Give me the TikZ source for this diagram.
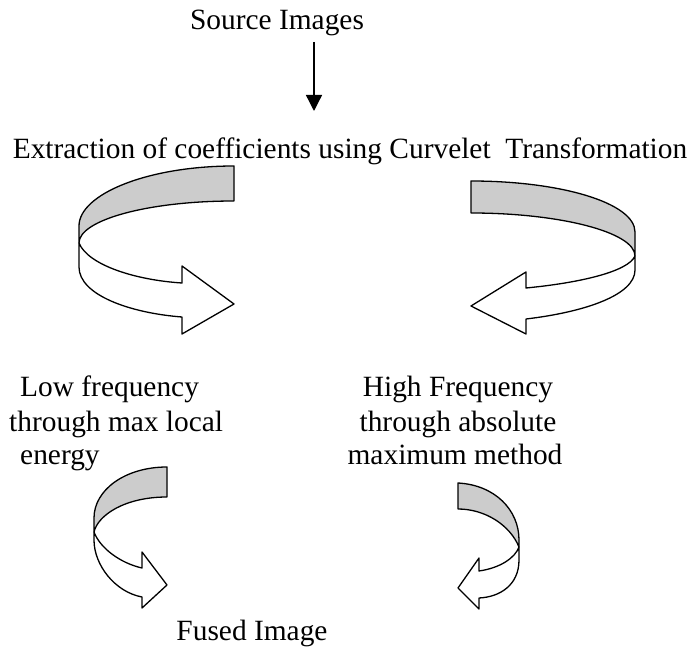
\documentclass[tikz,border=0pt]{standalone}
\usepackage{fontspec}
\setmainfont{Liberation Serif}
\usetikzlibrary{arrows.meta}
\begin{document}
\begin{tikzpicture}[x=1pt,y=-1pt,
  lbl/.style={inner sep=0pt, font=\fontsize{29.4}{34}\selectfont},
  band/.style={draw=black, line width=1.3pt, line join=round},
  backface/.style={band, fill=black!20},
  frontface/.style={band, fill=white}]
\useasboundingbox (0,0) rectangle (697,652);

% texts
\node[lbl, anchor=base] (source) at (277,30) {Source Images};
\node[lbl, anchor=base] (extraction) at (350,159) {Extraction of coefficients using Curvelet\ \ Transformation};
\node[lbl, anchor=base west] (low1) at (20,397) {Low frequency};
\node[lbl, anchor=base west] (low2) at (9,432) {through max local};
\node[lbl, anchor=base west] (low3) at (20,465) {energy};
\node[lbl, anchor=base] (high1) at (458,397) {High Frequency};
\node[lbl, anchor=base] (high2) at (458,432) {through absolute};
\node[lbl, anchor=base] (high3) at (455,465) {maximum method};
\node[lbl, anchor=base] (fused) at (252,640) {Fused Image};

% top arrow
\coordinate (ta) at (314,42);
\coordinate (tb) at (314,111);
\draw[line width=1.3pt, -{Triangle[width=16pt,length=16pt]}] (ta) -- (tb);

% left big curved arrow
\draw[backface] (234,166) .. controls (148,166) and (79,194) .. (79,226)
  -- (79,243) .. controls (79,220) and (148,201) .. (234,201) -- cycle;
\draw[frontface] (79,243) -- (79,267) .. controls (79,295) and (130,313) .. (182,317)
  -- (182,334) -- (234,304) -- (182,266) -- (182,283)
  .. controls (135,280) and (88,265) .. (79,243) -- cycle;

% right big curved arrow
\draw[backface] (471,181) .. controls (561,181) and (635,203) .. (635,232)
  -- (635,256) .. controls (635,232) and (559,213) .. (471,213) -- cycle;
\draw[frontface] (635,256) -- (635,270) .. controls (635,295) and (585,312) .. (526,319)
  -- (526,334) -- (471,306) -- (526,272) -- (526,288)
  .. controls (578,283) and (628,272) .. (635,256) -- cycle;

% left small curved arrow
\draw[backface] (167,467) .. controls (125,467) and (94,490) .. (94,518)
  -- (94,532) .. controls (98,515) and (125,497) .. (167,497) -- cycle;
\draw[frontface] (94,532) -- (94,540) .. controls (94,565) and (115,592) .. (142,597)
  -- (142,608) -- (167,585) -- (142,552) -- (142,568)
  .. controls (120,563) and (100,548) .. (94,532) -- cycle;

% right small curved arrow
\draw[backface] (458,483) .. controls (495,485) and (519,510) .. (519,540)
  -- (519,547) .. controls (510,525) and (485,509) .. (458,509) -- cycle;
\draw[frontface] (519,547) -- (519,560) .. controls (519,585) and (500,597) .. (479,598)
  -- (479,609) -- (458,588) -- (479,558) -- (479,571)
  .. controls (500,568) and (515,558) .. (519,547) -- cycle;
\end{tikzpicture}
\end{document}
